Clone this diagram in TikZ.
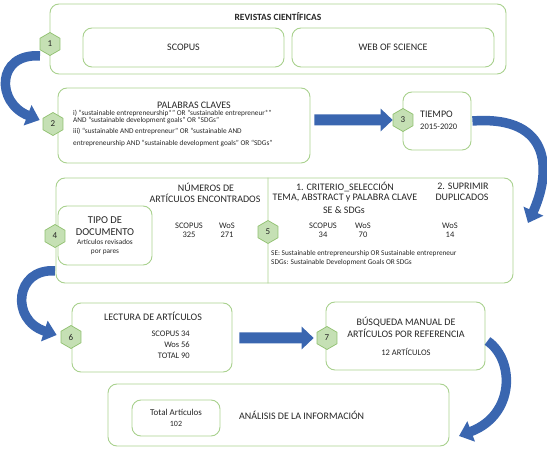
\documentclass[tikz,border=0pt]{standalone}
\usepackage{fontspec}
\setmainfont{Carlito}
\usetikzlibrary{arrows.meta,shapes.geometric}

\definecolor{boxgreen}{HTML}{A9D18E}
\definecolor{hexfill}{HTML}{C5E0B4}
\definecolor{hexline}{HTML}{8FC06E}
\definecolor{flowblue}{HTML}{3A66B0}
\definecolor{ink}{HTML}{262626}

\tikzset{
  box/.style={draw=boxgreen, line width=0.9pt, rounded corners=9pt},
  numhex/.style={regular polygon, regular polygon sides=6, shape border rotate=30,
    draw=hexline, fill=hexfill, line width=0.7pt, minimum size=23pt, inner sep=0pt,
    text=ink, font=\fontsize{9}{10}\selectfont},
  head/.style={text=ink, inner sep=0pt, font=\fontsize{10}{11}\selectfont},
  mid/.style={text=ink, inner sep=0pt, font=\fontsize{8.5}{9.5}\selectfont},
  tiny/.style={text=ink, inner sep=0pt, font=\fontsize{7.3}{8}\selectfont},
  blockarrow/.style={draw=flowblue, line width=11pt, -{Triangle[width=22pt,length=12pt]}},
  bendarrow/.style={draw=flowblue, line width=9.5pt, -{Triangle[width=21pt,length=13pt]}}
}

\begin{document}
\begin{tikzpicture}[x=1pt,y=-1pt]
  \useasboundingbox (0,0) rectangle (547,454);

  % 1: journals
  \node[box, minimum width=456pt, minimum height=70pt] (rev) at (278,39) {};
  \node[head, font=\fontsize{9.5}{10}\selectfont\bfseries] (revt) at (278,17) {REVISTAS CIENTÍFICAS};
  \node[box, minimum width=201pt, minimum height=39pt] (scopus) at (183.5,47.5) {};
  \node[head] at (scopus) {SCOPUS};
  \node[box, minimum width=202pt, minimum height=39pt] (wos) at (393,47.5) {};
  \node[head] at (wos) {WEB OF SCIENCE};
  \node[numhex] (h1) at (50,44) {1};

  % 2: keywords
  \node[box, minimum width=252pt, minimum height=75pt] (pal) at (184,125.5) {};
  \node[head] (palt) at (194,105) {PALABRAS CLAVES};
  \node[tiny, anchor=west] (k1) at (73,113) {i) “sustainable entrepreneurship*” OR “sustainable entrepreneur*”};
  \node[tiny, anchor=west] (k2) at (73,120.5) {AND “sustainable development goals” OR “SDGs”};
  \node[tiny, anchor=west] (k3) at (73,131) {iii) “sustainable AND entrepreneur” OR “sustainable AND};
  \node[tiny, anchor=west] (k4) at (73,143) {entrepreneurship AND “sustainable development goals” OR “SDGs”};
  \node[numhex] (h2) at (53,124) {2};

  % 3: time span
  \node[box, minimum width=68pt, minimum height=58pt] (tiempo) at (437,121) {};
  \node[head, anchor=west] (tiempot) at (420,114) {TIEMPO};
  \node[mid, anchor=west] (anios) at (420,127) {2015-2020};
  \node[numhex] (h3) at (403,120) {3};

  % 4 and 5: articles found, selection
  \node[box, minimum width=457pt, minimum height=105pt] (num) at (284.5,230.5) {};
  \node[box, minimum width=94pt, minimum height=59pt] (tipo) at (105,235.5) {};
  \node[head, font=\fontsize{10.5}{11}\selectfont] at (105,220) {TIPO DE};
  \node[head, font=\fontsize{10.5}{11}\selectfont] at (105,232) {DOCUMENTO};
  \node[tiny] at (105,242) {Artículos revisados};
  \node[tiny] at (105,252) {por pares};
  \node[head] at (206,187) {NÚMEROS DE};
  \node[head] at (205,198) {ARTÍCULOS ENCONTRADOS};
  \node[mid] at (189,226) {SCOPUS};
  \node[mid] at (189,235) {325};
  \node[mid] at (227,226) {WoS};
  \node[mid] at (227,235) {271};
  \node[numhex] (h4) at (55,236) {4};

  \node[numhex] (h5) at (268,232) {5};
  \draw[boxgreen, line width=0.9pt] (num.north -| h5) -- (h5.north);
  \draw[boxgreen, line width=0.9pt] (h5.south) -- (num.south -| h5);
  \node[head] at (345,187) {1. CRITERIO\_SELECCIÓN};
  \node[head] at (345,198) {TEMA, ABSTRACT y PALABRA CLAVE};
  \node[head] at (344,210) {SE \& SDGs};
  \node[head] at (463,186) {2. SUPRIMIR};
  \node[head] at (462,197) {DUPLICADOS};
  \node[mid] at (323,226) {SCOPUS};
  \node[mid] at (323,235) {34};
  \node[mid] at (363,226) {WoS};
  \node[mid] at (363,235) {70};
  \node[mid] at (450,226) {WoS};
  \node[mid] at (450,235) {14};
  \node[tiny, anchor=west] at (271,254) {SE: Sustainable entrepreneurship OR Sustainable entrepreneur};
  \node[tiny, anchor=west] at (271,263) {SDGs: Sustainable Development Goals OR SDGs};

  % 6: reading
  \node[box, minimum width=160pt, minimum height=69pt] (lectura) at (152,337.5) {};
  \node[head] at (153,316) {LECTURA DE ARTÍCULOS};
  \node[mid, anchor=east] at (190,334) {SCOPUS 34};
  \node[mid, anchor=east] at (190,345) {Wos 56};
  \node[mid, anchor=east] at (190,356) {TOTAL 90};
  \node[numhex] (h6) at (71,337) {6};

  % 7: manual search
  \node[box, minimum width=159pt, minimum height=68pt] (busq) at (405.5,336) {};
  \node[head] at (406,322) {BÚSQUEDA MANUAL DE};
  \node[head] at (406,333) {ARTÍCULOS POR REFERENCIA};
  \node[mid] at (406,352) {12 ARTÍCULOS};
  \node[numhex] (h7) at (327,338) {7};

  % analysis
  \node[box, minimum width=341pt, minimum height=62pt] (analisis) at (278.5,415) {};
  \node[box, minimum width=88pt, minimum height=36pt] (total) at (176,418) {};
  \node[mid, font=\fontsize{9}{10}\selectfont] at (176,412) {Total Artículos};
  \node[mid, font=\fontsize{8}{9}\selectfont] at (176,424) {102};
  \node[head, anchor=west] at (239,415) {ANÁLISIS DE LA INFORMACIÓN};

  % flow arrows
  \draw[bendarrow] ([xshift=-10pt]h1.south) .. controls (-4,53) and (-4,103) .. ([xshift=-3pt,yshift=4pt]h2.west);
  \draw[blockarrow] ([xshift=4pt]pal.east |- h3) -- (h3.west);
  \draw[bendarrow] ([xshift=1pt]tiempo.east) .. controls (555,115) and (550,175) .. (528,223);
  \draw[bendarrow] ([yshift=-23pt]h4.south) .. controls (15,268) and (10,320) .. ([xshift=-4pt,yshift=2pt]h6.west);
  \draw[blockarrow] ([xshift=7pt]lectura.east |- h7) -- ([xshift=-3pt]h7.west);
  \draw[bendarrow] ([xshift=2pt,yshift=-5pt]busq.east) .. controls (515,360) and (515,415) .. (459,436);
\end{tikzpicture}
\end{document}
